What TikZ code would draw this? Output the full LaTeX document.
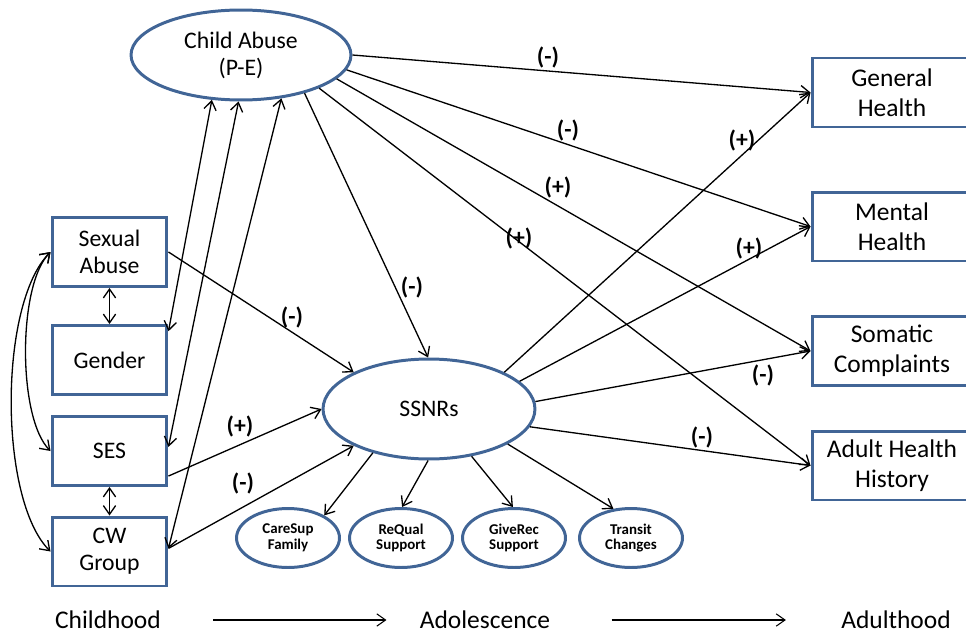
\documentclass[tikz,border=0pt]{standalone}
\usepackage{fontspec}
\setmainfont{Carlito}
\usepackage{tikz}
\definecolor{boxblue}{RGB}{65,101,150}
\usetikzlibrary{shapes.geometric,arrows.meta,calc}

\begin{document}
\begin{tikzpicture}[x=0.02cm, y=0.02cm,
    box/.style={draw=boxblue, line width=1.7pt, rectangle, minimum width=2.3cm, minimum height=1.38cm, align=center, inner sep=0pt, font=\fontsize{13.5}{15.3}\selectfont},
    outbox/.style={box, minimum width=3.2cm, font=\fontsize{14.5}{17}\selectfont},
    latent/.style={draw=boxblue, line width=1.7pt, ellipse, inner sep=0pt, align=center, font=\fontsize{13.5}{15.3}\selectfont},
    ind/.style={latent, minimum width=2.06cm, minimum height=1.18cm, font=\fontsize{8.5}{9}\selectfont\bfseries},
    arr/.style={-{Straight Barb[length=5pt,width=7pt]}, line width=0.75pt},
    dbl/.style={{Straight Barb[length=5pt,width=7pt]}-{Straight Barb[length=5pt,width=7pt]}, line width=0.75pt},
    sgn/.style={font=\fontsize{13.5}{15}\selectfont\bfseries, inner sep=1pt},
    era/.style={font=\fontsize{14.5}{16}\selectfont, inner sep=0pt}]
    \useasboundingbox (0,0) rectangle (966,-635);

    % Latent variables
    \node[latent, minimum width=4.4cm, minimum height=1.8cm] (ca) at (241,-55) {Child Abuse\\(P-E)};
    \node[latent, minimum width=4.24cm, minimum height=2cm] (ssnr) at (429,-409) {SSNRs};

    % Childhood covariates
    \node[box] (sa) at (109.5,-252) {Sexual\\Abuse};
    \node[box] (gen) at (109.5,-360) {Gender};
    \node[box] (ses) at (109.5,-451) {SES};
    \node[box] (cw) at (109.5,-551.5) {CW\\Group};

    % Adult outcomes (cut off at the right edge)
    \node[outbox] (gh) at (892,-92.5) {General\\Health};
    \node[outbox] (mh) at (892,-226.5) {Mental\\Health};
    \node[outbox] (sc) at (892,-351) {Somatic\\Complaints};
    \node[outbox] (ahh) at (892,-465.5) {Adult Health\\History};

    % SSNR indicators
    \node[ind] (cs) at (288,-538) {CareSup\\Family};
    \node[ind] (rq) at (401,-538) {ReQual\\Support};
    \node[ind] (gr) at (514,-538) {GiveRec\\Support};
    \node[ind] (tc) at (631,-538) {Transit\\Changes};

    % Correlations among covariates
    \draw[dbl] (sa.south) -- (gen.north);
    \draw[dbl] (ses.south) -- (cw.north);
    \draw[dbl] (sa.west) to[out=225, in=135, looseness=0.6] (ses.west);
    \draw[dbl] (sa.west) to[out=225, in=135, looseness=0.63] (cw.west);
    \draw[dbl] (ca.237) -- (gen.26);
    \draw[dbl] (ca.267.6) -- (ses.4);
    \draw[dbl] (ca.313.5) -- (cw.3.5);

    % Paths into SSNRs
    \draw[arr] (sa.east) -- (ssnr.154);
    \draw[arr] (ses.337) -- (ssnr.west);
    \draw[arr] (cw.3.5) -- (ssnr.206);
    \draw[arr] (ca.329.7) -- (ssnr.91);

    % Paths from child abuse to outcomes
    \draw[arr] (ca.east) -- (gh.west);
    \draw[arr] (ca.352) -- (mh.west);
    \draw[arr] (ca.346.6) -- (sc.west);
    \draw[arr] (ca.337.4) -- (ahh.west);

    % Paths from SSNRs to outcomes
    \draw[arr] (ssnr.26.6) -- (gh.west);
    \draw[arr] (ssnr.17) -- (mh.west);
    \draw[arr] (ssnr.4.9) -- (sc.west);
    \draw[arr] (ssnr.350.4) -- (ahh.west);

    % Indicators
    \draw[arr] (ssnr.218.5) -- (cs.32);
    \draw[arr] (ssnr.269) -- (rq.88);
    \draw[arr] (ssnr.312) -- (gr.92);
    \draw[arr] (ssnr.336.7) -- (tc.121.5);

    % Signs
    \node[sgn] (s1) at (548,-57) {(-)};
    \node[sgn] (s2) at (568,-130) {(-)};
    \node[sgn] (s3) at (558,-187) {(+)};
    \node[sgn] (s4) at (519,-238) {(+)};
    \node[sgn] (s5) at (742,-140) {(+)};
    \node[sgn] (s6) at (749,-248) {(+)};
    \node[sgn] (s7) at (763,-375) {(-)};
    \node[sgn] (s8) at (702,-437) {(-)};
    \node[sgn] (s9) at (412,-287) {(-)};
    \node[sgn] (s10) at (292,-317) {(-)};
    \node[sgn] (s11) at (240,-426) {(+)};
    \node[sgn] (s12) at (243,-483) {(-)};

    % Timeline
    \node[era] (child) at (108,-620) {Childhood};
    \node[era] (adol) at (485,-620) {Adolescence};
    \node[era] (adult) at (896,-620) {Adulthood};
    \draw[arr, line width=0.6pt, shorten <=1.04cm, shorten >=0.66cm] (child.east) -- (adol.west);
    \draw[arr, line width=0.6pt, shorten <=1.22cm, shorten >=1.1cm] (adol.east) -- (adult.west);
\end{tikzpicture}
\end{document}
